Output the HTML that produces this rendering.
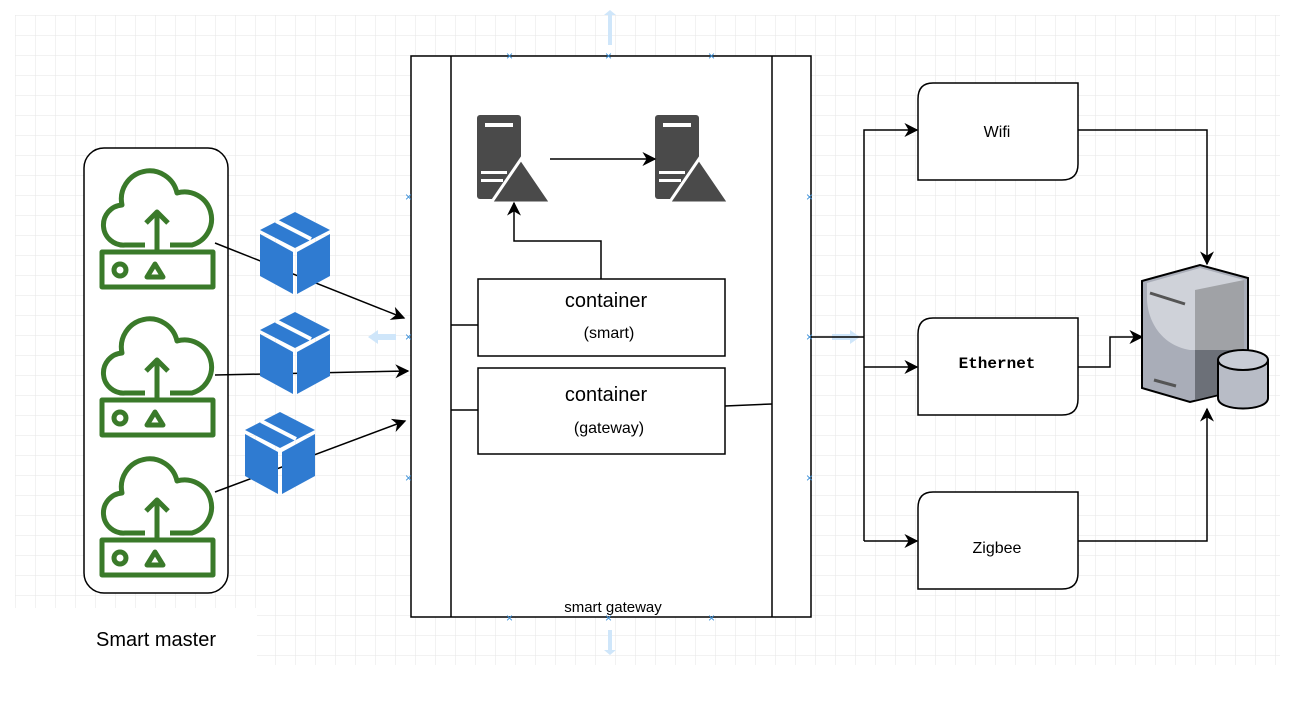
<!DOCTYPE html>
<html><head><meta charset="utf-8"><style>
html,body{margin:0;padding:0;background:#fff;}
svg{display:block;font-family:"Liberation Sans",sans-serif;}
</style></head><body>
<svg width="1291" height="702" viewBox="0 0 1291 702" xmlns="http://www.w3.org/2000/svg">
<defs>
<pattern id="g" width="20" height="20" patternUnits="userSpaceOnUse" x="15" y="15">
<path d="M20 0H0V20" fill="none" stroke="#e6e6e6" stroke-width="1"/>
</pattern>
<marker id="a" viewBox="0 0 10 10" refX="9" refY="5" markerWidth="14" markerHeight="14" markerUnits="userSpaceOnUse" orient="auto"><path d="M0 0L10 5L0 10L3 5z" fill="#000"/></marker>
<g id="cloud" fill="none" stroke="#3a7a2a" stroke-width="5" stroke-linejoin="round">
<path d="M45 80H25A20 20 0 0 1 22 40A28 28 0 0 1 77 28A22 22 0 0 1 92 80H70"/>
<path d="M57 87V47M46 58L57 47L68 58"/>
<rect x="2" y="87" width="111" height="35"/>
<circle cx="20" cy="105" r="6"/>
<path d="M47 112L55 99L63 112z"/>
</g>
<g id="cube">
<path d="M35 0L70 18L35 36L0 18z" fill="#2f7bd1"/>
<path d="M0 22L33 40V82L0 64z" fill="#2f7bd1"/>
<path d="M70 22L37 40V82L70 64z" fill="#2f7bd1"/>
<path d="M16 9L51 27" stroke="#fff" stroke-width="4"/>
</g>
<g id="srv">
<rect x="0" y="0" width="44" height="84" rx="3" fill="#4a4a4a"/>
<rect x="8" y="8" width="28" height="4" fill="#fff"/>
<rect x="4" y="56" width="26" height="3" fill="#fff"/>
<rect x="4" y="64" width="22" height="3" fill="#fff"/>
<path d="M44 44L74 88H14z" fill="#4a4a4a" stroke="#fff" stroke-width="3"/>
</g>
</defs>
<rect x="15" y="15" width="1265" height="650" fill="url(#g)"/>
<rect x="15" y="608" width="242" height="60" fill="#fff"/>
<text x="156" y="646" font-size="20" text-anchor="middle">Smart master</text>

<rect x="84" y="148" width="144" height="445" rx="20" fill="#fff" stroke="#000" stroke-width="1.5"/>
<use href="#cloud" x="100" y="165"/>
<use href="#cloud" x="100" y="313"/>
<use href="#cloud" x="100" y="453"/>

<line x1="215" y1="243" x2="404" y2="318" stroke="#000" stroke-width="1.5" marker-end="url(#a)"/>
<line x1="215" y1="375" x2="408" y2="371" stroke="#000" stroke-width="1.5" marker-end="url(#a)"/>
<line x1="215" y1="492" x2="405" y2="421" stroke="#000" stroke-width="1.5" marker-end="url(#a)"/>
<use href="#cube" x="260" y="212"/>
<use href="#cube" x="260" y="312"/>
<use href="#cube" x="245" y="412"/>

<rect x="411" y="56" width="400" height="561" fill="#fff" stroke="#000" stroke-width="1.5"/>
<line x1="451" y1="56" x2="451" y2="617" stroke="#000" stroke-width="1.5"/>
<line x1="772" y1="56" x2="772" y2="617" stroke="#000" stroke-width="1.5"/>
<text x="613" y="612" font-size="15" text-anchor="middle">smart gateway</text>
<use href="#srv" x="477" y="115"/>
<use href="#srv" x="655" y="115"/>
<line x1="550" y1="159" x2="655" y2="159" stroke="#000" stroke-width="1.5" marker-end="url(#a)"/>
<polyline points="601,279 601,241 514,241 514,203" fill="none" stroke="#000" stroke-width="1.5" marker-end="url(#a)"/>
<rect x="478" y="279" width="247" height="77" fill="#fff" stroke="#000" stroke-width="1.5"/>
<text x="606" y="307" font-size="20" text-anchor="middle">container</text>
<text x="609" y="338" font-size="16" text-anchor="middle">(smart)</text>
<rect x="478" y="368" width="247" height="86" fill="#fff" stroke="#000" stroke-width="1.5"/>
<text x="606" y="401" font-size="20" text-anchor="middle">container</text>
<text x="609" y="433" font-size="16" text-anchor="middle">(gateway)</text>
<line x1="451" y1="325" x2="478" y2="325" stroke="#000" stroke-width="1.5"/>
<line x1="451" y1="410" x2="478" y2="410" stroke="#000" stroke-width="1.5"/>
<line x1="725" y1="406" x2="772" y2="404" stroke="#000" stroke-width="1.5"/>
<g fill="#cfe6fa"><path d="M604 15l6-5 6 5h-4v30h-4v-30z"/><path d="M604 650l6 5 6-5h-4v-20h-4v20z"/><path d="M368 337l10-7v4h18v6h-18v4z"/><path d="M860 337l-10-7v4h-18v6h18v4z"/></g>

<g fill="none" stroke="#000" stroke-width="1.5">
<line x1="811" y1="337" x2="864" y2="337"/>
<polyline points="864,541 864,130 917,130" marker-end="url(#a)"/>
<line x1="864" y1="367" x2="917" y2="367" marker-end="url(#a)"/>
<line x1="864" y1="541" x2="917" y2="541" marker-end="url(#a)"/>
<polyline points="1056,130 1207,130 1207,264" marker-end="url(#a)"/>
<polyline points="1078,367 1110,367 1110,337 1142,337" marker-end="url(#a)"/>
<polyline points="1078,541 1207,541 1207,409" marker-end="url(#a)"/>
</g>
<g fill="#fff" stroke="#000" stroke-width="1.5">
<path d="M933 83H1078V164Q1078 180 1062 180H918V99Q918 83 933 83z"/>
<path d="M933 318H1078V399Q1078 415 1062 415H918V334Q918 318 933 318z"/>
<path d="M933 492H1078V573Q1078 589 1062 589H918V508Q918 492 933 492z"/>
</g>
<text x="997" y="137" font-size="16" text-anchor="middle">Wifi</text>
<text x="997" y="368" font-size="16" text-anchor="middle" font-family="Liberation Mono,monospace" font-weight="bold">Ethernet</text>
<text x="997" y="553" font-size="16" text-anchor="middle">Zigbee</text>

<path d="M1142 281L1200 265L1248 278V388L1190 402L1142 388z" fill="#a9adb8" stroke="#000" stroke-width="2"/>
<path d="M1147 283L1200 268L1244 280V350H1190C1160 345 1148 320 1147 300z" fill="#cfd2d9"/>
<path d="M1195 290L1244 280V350H1195z" fill="#a0a2a6"/>
<path d="M1195 350H1244V388L1195 400z" fill="#6c7078"/>
<line x1="1150" y1="293" x2="1185" y2="304" stroke="#555" stroke-width="3"/>
<line x1="1154" y1="380" x2="1176" y2="386" stroke="#555" stroke-width="3"/>
<path d="M1218 360V398C1218 412 1268 412 1268 398V360" fill="#b8bcc6" stroke="#000" stroke-width="2"/>
<ellipse cx="1243" cy="360" rx="25" ry="10" fill="#c8ccd5" stroke="#000" stroke-width="2"/>
<g fill="#3a8fd8" font-size="12"><text x="506" y="60">×</text><text x="605" y="60">×</text><text x="708" y="60">×</text><text x="506" y="622">×</text><text x="605" y="622">×</text><text x="708" y="622">×</text><text x="405" y="201">×</text><text x="405" y="341">×</text><text x="405" y="482">×</text><text x="806" y="201">×</text><text x="806" y="341">×</text><text x="806" y="482">×</text></g>
</svg>
</body></html>
